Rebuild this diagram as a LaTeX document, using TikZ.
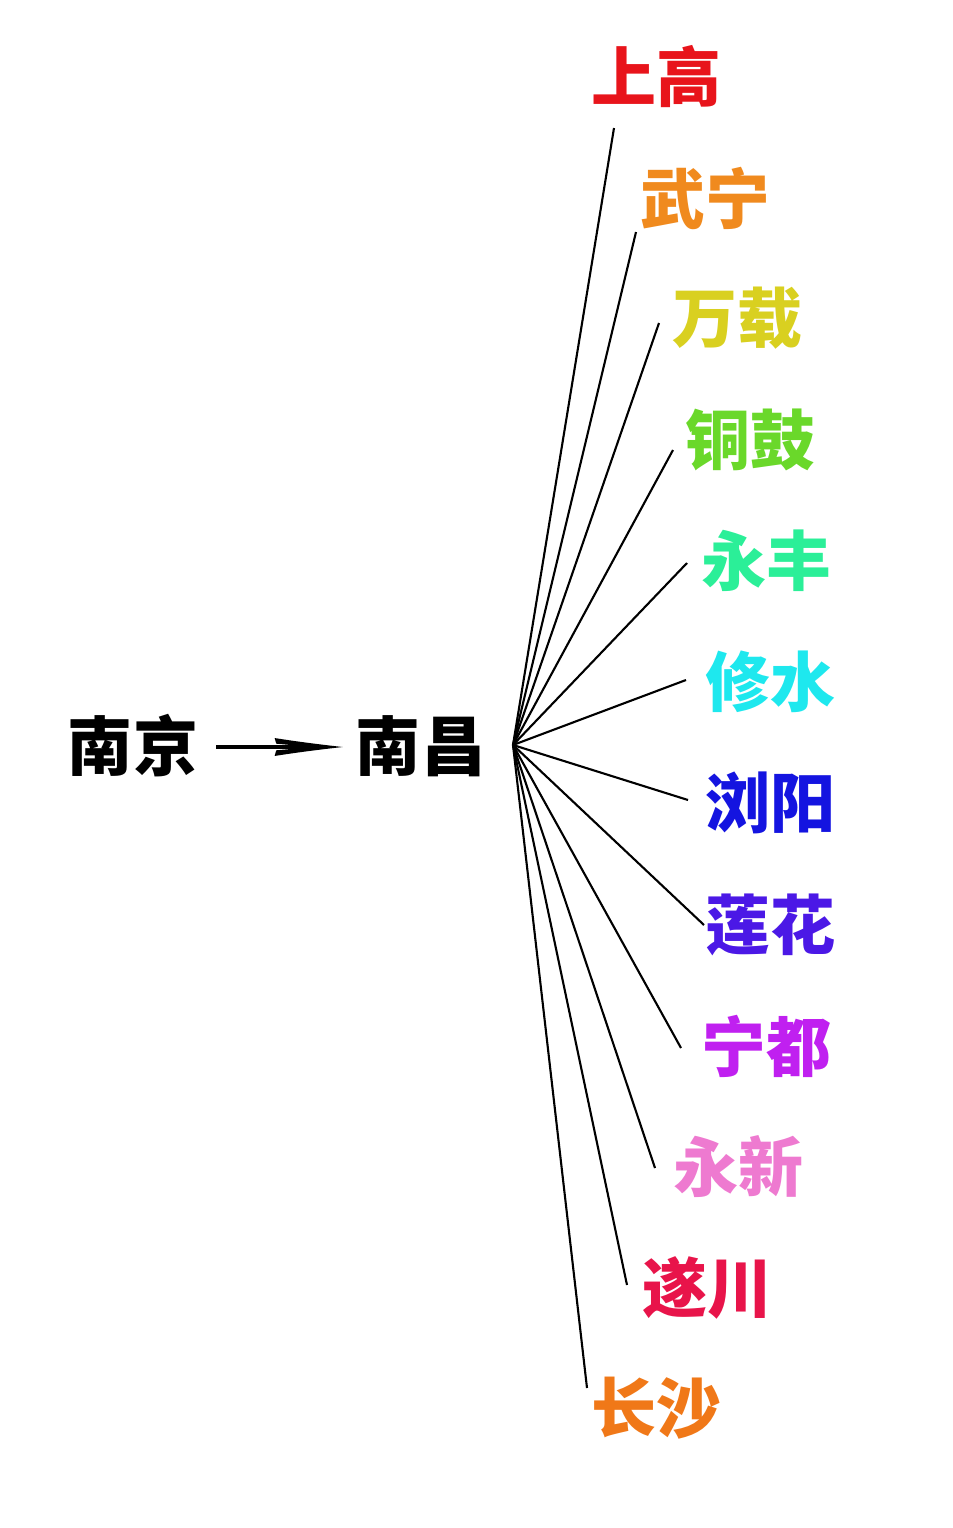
\documentclass[tikz,border=0pt]{standalone}
\usepackage{fontspec}
\setmainfont{Noto Sans CJK SC}
\usepackage{tikz}
\usetikzlibrary{arrows.meta, positioning, calc}
\definecolor{shanggao}{HTML}{E8141B}
\definecolor{wuning}{HTML}{F08A1E}
\definecolor{wanzai}{HTML}{D9D020}
\definecolor{tonggu}{HTML}{6AD82A}
\definecolor{yongfeng}{HTML}{2BEF98}
\definecolor{xiushui}{HTML}{1EE8EE}
\definecolor{liuyang}{HTML}{1414E0}
\definecolor{lianhua}{HTML}{4B18E6}
\definecolor{ningdu}{HTML}{C020F0}
\definecolor{yongxin}{HTML}{EE7AD0}
\definecolor{suichuan}{HTML}{E8144A}
\definecolor{changsha}{HTML}{F07818}
% Long barbed head for the route arrow
\pgfdeclarearrow{
  name = LongBarb,
  setup code = {
    \pgfarrowssettipend{0pt}
    \pgfarrowssetlineend{-19pt}
    \pgfarrowssetbackend{-38.7pt}
    \pgfarrowssetvisualbackend{-19pt}
    \pgfarrowshullpoint{0pt}{0pt}
    \pgfarrowshullpoint{-38.7pt}{5.1pt}
    \pgfarrowshullpoint{-38.7pt}{-5.1pt}
  },
  drawing code = {
    \pgfpathmoveto{\pgfqpoint{0pt}{0pt}}
    \pgfpathcurveto{\pgfqpoint{-17pt}{1.9pt}}{\pgfqpoint{-28.5pt}{3.5pt}}{\pgfqpoint{-38.7pt}{5.1pt}}
    \pgfpathlineto{\pgfqpoint{-37.8pt}{1.9pt}}
    \pgfpathcurveto{\pgfqpoint{-31pt}{1.2pt}}{\pgfqpoint{-25pt}{0.9pt}}{\pgfqpoint{-19.3pt}{0pt}}
    \pgfpathcurveto{\pgfqpoint{-25pt}{-0.9pt}}{\pgfqpoint{-31pt}{-1.2pt}}{\pgfqpoint{-37.8pt}{-1.9pt}}
    \pgfpathlineto{\pgfqpoint{-38.7pt}{-5.1pt}}
    \pgfpathcurveto{\pgfqpoint{-28.5pt}{-3.5pt}}{\pgfqpoint{-17pt}{-1.9pt}}{\pgfqpoint{0pt}{0pt}}
    \pgfpathclose
    \pgfusepathqfill
  },
}
\tikzset{
  % Place names
  city/.style={
    inner sep=0pt, font=\fontsize{37}{37}\selectfont\bfseries, text=#1,
  },
  city/.default={black},
  % Fan lines from Nanchang
  spoke/.style={line width=1.2pt, black},
  % Main route arrow
  route/.style={-{LongBarb}, line width=1.9pt, black},
}

\begin{document}
\begin{tikzpicture}[x=0.02cm, y=-0.02cm]
  \useasboundingbox (0,0) rectangle (953,1528);

  % Route
  \node[city] (nanjing) at (133,746) {南京};
  \node[city] (nanchang) at (421,746) {南昌};
  \draw[route] ($(nanjing.east)+(18,1)$) -- ($(nanchang.west)+(-13,1)$);

  % Hub of the fan
  \coordinate (hub) at (513,745);

  % Destinations
  \node[city=shanggao] (shanggao) at (656,77) {上高};
  \node[city=wuning] (wuning) at (705,198) {武宁};
  \node[city=wanzai] (wanzai) at (737,318) {万载};
  \node[city=tonggu] (tonggu) at (750,440) {铜鼓};
  \node[city=yongfeng] (yongfeng) at (766,561) {永丰};
  \node[city=xiushui] (xiushui) at (770,682) {修水};
  \node[city=liuyang] (liuyang) at (770,803) {浏阳};
  \node[city=lianhua] (lianhua) at (770,925) {莲花};
  \node[city=ningdu] (ningdu) at (766,1046) {宁都};
  \node[city=yongxin] (yongxin) at (738,1167) {永新};
  \node[city=suichuan] (suichuan) at (707,1288) {遂川};
  \node[city=changsha] (changsha) at (656,1408) {长沙};

  % Line ends near each label
  \coordinate (e1) at (614,128);
  \coordinate (e2) at (636,232);
  \coordinate (e3) at (659,323);
  \coordinate (e4) at (673,450);
  \coordinate (e5) at (687,563);
  \coordinate (e6) at (686,680);
  \coordinate (e7) at (688,800);
  \coordinate (e8) at (704,925);
  \coordinate (e9) at (681,1048);
  \coordinate (e10) at (655,1168);
  \coordinate (e11) at (627,1285);
  \coordinate (e12) at (587,1388);

  % Fan
  \draw[spoke] (hub) -- (e1);
  \draw[spoke] (hub) -- (e2);
  \draw[spoke] (hub) -- (e3);
  \draw[spoke] (hub) -- (e4);
  \draw[spoke] (hub) -- (e5);
  \draw[spoke] (hub) -- (e6);
  \draw[spoke] (hub) -- (e7);
  \draw[spoke] (hub) -- (e8);
  \draw[spoke] (hub) -- (e9);
  \draw[spoke] (hub) -- (e10);
  \draw[spoke] (hub) -- (e11);
  \draw[spoke] (hub) -- (e12);

\end{tikzpicture}
\end{document}
